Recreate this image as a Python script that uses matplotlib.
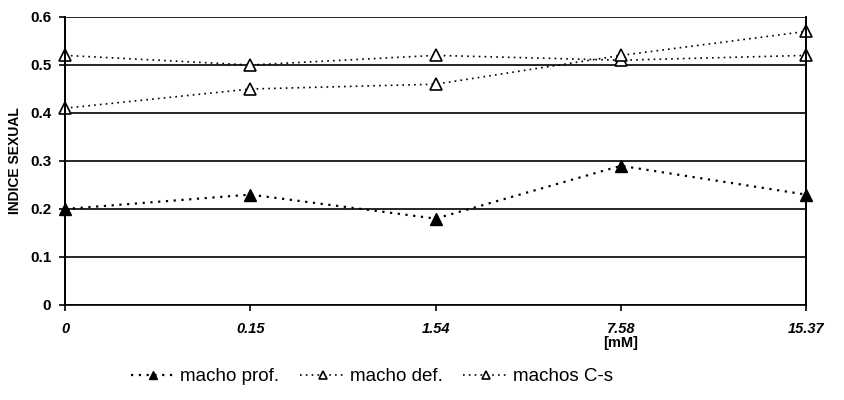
"""Indice sexual vs concentracion"""

import matplotlib.pyplot as plt
import numpy as np

plt.rcParams['font.family'] = ['Liberation Sans', 'DejaVu Sans']

conc = ['0', '0.15', '1.54', '7.58', '15.37']
macho_prof = [0.20, 0.23, 0.18, 0.29, 0.23]
macho_def = [0.52, 0.50, 0.52, 0.51, 0.52]
machos_cs = [0.41, 0.45, 0.46, 0.52, 0.57]

x = np.arange(len(conc))

fig = plt.figure(figsize=(8.45, 4), dpi=100)
ax = fig.add_axes([0.077, 0.2375, 0.877, 0.72])

dots = (0, (1, 2.5))
ax.plot(x, macho_prof, ls=dots, lw=1.6, color='black', marker='^', ms=8,
        mfc='black', mec='black', label='macho prof.', clip_on=False)
ax.plot(x, macho_def, ls=dots, lw=1.2, color='black', marker='^', ms=8,
        mfc='white', mec='black', mew=1.2, label='macho def.', clip_on=False)
ax.plot(x, machos_cs, ls=dots, lw=1.2, color='black', marker='^', ms=8,
        mfc='white', mec='black', mew=1.2, label='machos C-s', clip_on=False)

ax.set_xlim(0, len(conc) - 1)
ax.set_ylim(0, 0.6)
ax.set_yticks(np.arange(0, 0.61, 0.1))
ax.set_yticklabels(['0', '0.1', '0.2', '0.3', '0.4', '0.5', '0.6'],
                   fontsize=11, fontweight='bold')
ax.set_xticks(x)
ax.set_xticklabels(conc, fontsize=10.5, fontweight='bold', fontstyle='italic')
ax.tick_params(axis='both', direction='out', length=4, width=1.2, pad=6)
ax.tick_params(axis='x', pad=8)

ax.yaxis.grid(True, color='black', lw=1.2)
ax.set_axisbelow(True)
for side in ['left', 'right']:
    ax.spines[side].set_linewidth(1.4)
ax.spines['top'].set_visible(False)
ax.spines['bottom'].set_linewidth(1.2)

ax.set_ylabel('INDICE SEXUAL', fontsize=10, fontweight='bold', labelpad=6)
ax.set_xlabel('[mM]', fontsize=10.5, fontweight='bold', x=0.75, labelpad=0)

leg = fig.legend(loc='lower center', bbox_to_anchor=(0.44, -0.005), ncol=3,
                 frameon=False, fontsize=13.5, handlelength=2.4, markerscale=0.7,
                 columnspacing=1.1, handletextpad=0.25)

fig.savefig('out.png', dpi=100)
